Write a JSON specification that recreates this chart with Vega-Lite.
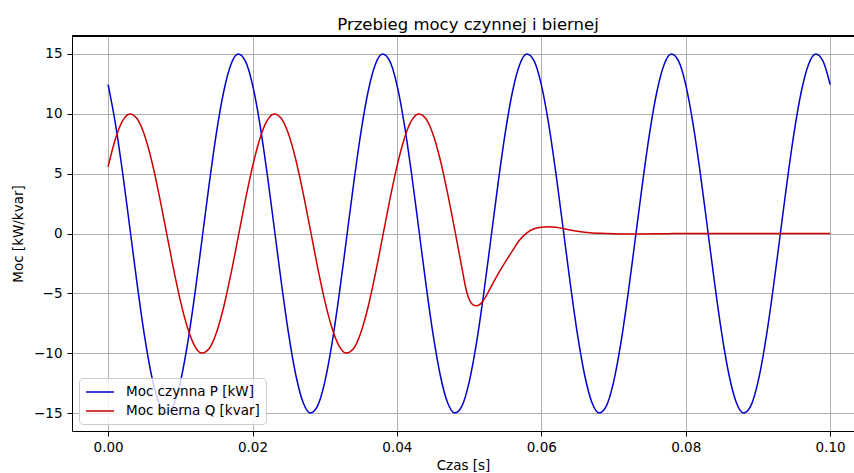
{
"$schema": "https://vega.github.io/schema/vega-lite/v6.json",
"width": 782, "height": 395,
"autosize": {"type": "none"},
"padding": {"left": 72, "top": 36, "right": 0, "bottom": 42},
"background": "white",
"title": {"text": "Przebieg mocy czynnej i biernej", "fontSize": 16.5, "font": "DejaVu Sans", "fontWeight": "normal", "color": "black", "baseline": "bottom", "offset": 4, "dy": 18, "dx": 5},
"data": {"values": [
{"t":0,"s":"P","v":12.44},{"t":0.001,"s":"P","v":9.23},{"t":0.002,"s":"P","v":5.13},{"t":0.003,"s":"P","v":0.52},{"t":0.004,"s":"P","v":-4.13},{"t":0.005,"s":"P","v":-8.39},{"t":0.006,"s":"P","v":-11.82},{"t":0.007,"s":"P","v":-14.1},{"t":0.008,"s":"P","v":-14.99},{"t":0.009,"s":"P","v":-14.42},
{"t":0.010,"s":"P","v":-12.44},{"t":0.011,"s":"P","v":-9.23},{"t":0.012,"s":"P","v":-5.13},{"t":0.013,"s":"P","v":-0.52},{"t":0.014,"s":"P","v":4.13},{"t":0.015,"s":"P","v":8.39},{"t":0.016,"s":"P","v":11.82},{"t":0.017,"s":"P","v":14.1},{"t":0.018,"s":"P","v":14.99},{"t":0.019,"s":"P","v":14.42},
{"t":0.020,"s":"P","v":12.44},{"t":0.021,"s":"P","v":9.23},{"t":0.022,"s":"P","v":5.13},{"t":0.023,"s":"P","v":0.52},{"t":0.024,"s":"P","v":-4.13},{"t":0.025,"s":"P","v":-8.39},{"t":0.026,"s":"P","v":-11.82},{"t":0.027,"s":"P","v":-14.1},{"t":0.028,"s":"P","v":-14.99},{"t":0.029,"s":"P","v":-14.42},
{"t":0.030,"s":"P","v":-12.44},{"t":0.031,"s":"P","v":-9.23},{"t":0.032,"s":"P","v":-5.13},{"t":0.033,"s":"P","v":-0.52},{"t":0.034,"s":"P","v":4.13},{"t":0.035,"s":"P","v":8.39},{"t":0.036,"s":"P","v":11.82},{"t":0.037,"s":"P","v":14.1},{"t":0.038,"s":"P","v":14.99},{"t":0.039,"s":"P","v":14.42},
{"t":0.040,"s":"P","v":12.44},{"t":0.041,"s":"P","v":9.23},{"t":0.042,"s":"P","v":5.13},{"t":0.043,"s":"P","v":0.52},{"t":0.044,"s":"P","v":-4.13},{"t":0.045,"s":"P","v":-8.39},{"t":0.046,"s":"P","v":-11.82},{"t":0.047,"s":"P","v":-14.1},{"t":0.048,"s":"P","v":-14.99},{"t":0.049,"s":"P","v":-14.42},
{"t":0.050,"s":"P","v":-12.44},{"t":0.051,"s":"P","v":-9.23},{"t":0.052,"s":"P","v":-5.13},{"t":0.053,"s":"P","v":-0.52},{"t":0.054,"s":"P","v":4.13},{"t":0.055,"s":"P","v":8.39},{"t":0.056,"s":"P","v":11.82},{"t":0.057,"s":"P","v":14.1},{"t":0.058,"s":"P","v":14.99},{"t":0.059,"s":"P","v":14.42},
{"t":0.060,"s":"P","v":12.44},{"t":0.061,"s":"P","v":9.23},{"t":0.062,"s":"P","v":5.13},{"t":0.063,"s":"P","v":0.52},{"t":0.064,"s":"P","v":-4.13},{"t":0.065,"s":"P","v":-8.39},{"t":0.066,"s":"P","v":-11.82},{"t":0.067,"s":"P","v":-14.1},{"t":0.068,"s":"P","v":-14.99},{"t":0.069,"s":"P","v":-14.42},
{"t":0.070,"s":"P","v":-12.44},{"t":0.071,"s":"P","v":-9.23},{"t":0.072,"s":"P","v":-5.13},{"t":0.073,"s":"P","v":-0.52},{"t":0.074,"s":"P","v":4.13},{"t":0.075,"s":"P","v":8.39},{"t":0.076,"s":"P","v":11.82},{"t":0.077,"s":"P","v":14.1},{"t":0.078,"s":"P","v":14.99},{"t":0.079,"s":"P","v":14.42},
{"t":0.080,"s":"P","v":12.44},{"t":0.081,"s":"P","v":9.23},{"t":0.082,"s":"P","v":5.13},{"t":0.083,"s":"P","v":0.52},{"t":0.084,"s":"P","v":-4.13},{"t":0.085,"s":"P","v":-8.39},{"t":0.086,"s":"P","v":-11.82},{"t":0.087,"s":"P","v":-14.1},{"t":0.088,"s":"P","v":-14.99},{"t":0.089,"s":"P","v":-14.42},
{"t":0.090,"s":"P","v":-12.44},{"t":0.091,"s":"P","v":-9.23},{"t":0.092,"s":"P","v":-5.13},{"t":0.093,"s":"P","v":-0.52},{"t":0.094,"s":"P","v":4.13},{"t":0.095,"s":"P","v":8.39},{"t":0.096,"s":"P","v":11.82},{"t":0.097,"s":"P","v":14.1},{"t":0.098,"s":"P","v":14.99},{"t":0.099,"s":"P","v":14.42},
{"t":0.100,"s":"P","v":12.44},
{"t":0,"s":"Q","v":5.59},{"t":0.001,"s":"Q","v":7.88},{"t":0.002,"s":"Q","v":9.4},{"t":0.003,"s":"Q","v":9.99},{"t":0.004,"s":"Q","v":9.61},{"t":0.005,"s":"Q","v":8.29},{"t":0.006,"s":"Q","v":6.16},{"t":0.007,"s":"Q","v":3.42},{"t":0.008,"s":"Q","v":0.35},{"t":0.009,"s":"Q","v":-2.76},
{"t":0.010,"s":"Q","v":-5.59},{"t":0.011,"s":"Q","v":-7.88},{"t":0.012,"s":"Q","v":-9.4},{"t":0.013,"s":"Q","v":-9.99},{"t":0.014,"s":"Q","v":-9.61},{"t":0.015,"s":"Q","v":-8.29},{"t":0.016,"s":"Q","v":-6.16},{"t":0.017,"s":"Q","v":-3.42},{"t":0.018,"s":"Q","v":-0.35},{"t":0.019,"s":"Q","v":2.76},
{"t":0.020,"s":"Q","v":5.59},{"t":0.021,"s":"Q","v":7.88},{"t":0.022,"s":"Q","v":9.4},{"t":0.023,"s":"Q","v":9.99},{"t":0.024,"s":"Q","v":9.61},{"t":0.025,"s":"Q","v":8.29},{"t":0.026,"s":"Q","v":6.16},{"t":0.027,"s":"Q","v":3.42},{"t":0.028,"s":"Q","v":0.35},{"t":0.029,"s":"Q","v":-2.76},
{"t":0.030,"s":"Q","v":-5.59},{"t":0.031,"s":"Q","v":-7.88},{"t":0.032,"s":"Q","v":-9.4},{"t":0.033,"s":"Q","v":-9.99},{"t":0.034,"s":"Q","v":-9.61},{"t":0.035,"s":"Q","v":-8.29},{"t":0.036,"s":"Q","v":-6.16},{"t":0.037,"s":"Q","v":-3.42},{"t":0.038,"s":"Q","v":-0.35},{"t":0.039,"s":"Q","v":2.76},
{"t":0.040,"s":"Q","v":5.59},{"t":0.041,"s":"Q","v":7.88},{"t":0.042,"s":"Q","v":9.4},{"t":0.043,"s":"Q","v":9.99},{"t":0.044,"s":"Q","v":9.61},{"t":0.045,"s":"Q","v":8.29},{"t":0.046,"s":"Q","v":6.16},{"t":0.047,"s":"Q","v":3.42},{"t":0.048,"s":"Q","v":0.35},{"t":0.049,"s":"Q","v":-2.85},
{"t":0.0495,"s":"Q","v":-4.45},{"t":0.050,"s":"Q","v":-5.5},{"t":0.0505,"s":"Q","v":-5.95},{"t":0.051,"s":"Q","v":-6.04},{"t":0.0515,"s":"Q","v":-5.92},{"t":0.052,"s":"Q","v":-5.58},{"t":0.053,"s":"Q","v":-4.5},{"t":0.054,"s":"Q","v":-3.4},{"t":0.055,"s":"Q","v":-2.4},{"t":0.056,"s":"Q","v":-1.45},
{"t":0.057,"s":"Q","v":-0.55},{"t":0.058,"s":"Q","v":0.05},{"t":0.059,"s":"Q","v":0.4},{"t":0.060,"s":"Q","v":0.53},{"t":0.061,"s":"Q","v":0.57},{"t":0.062,"s":"Q","v":0.53},{"t":0.063,"s":"Q","v":0.42},{"t":0.064,"s":"Q","v":0.29},{"t":0.065,"s":"Q","v":0.18},{"t":0.066,"s":"Q","v":0.1},
{"t":0.067,"s":"Q","v":0.05},{"t":0.068,"s":"Q","v":0.02},{"t":0.069,"s":"Q","v":-0.01},{"t":0.070,"s":"Q","v":-0.03},{"t":0.072,"s":"Q","v":-0.05},{"t":0.074,"s":"Q","v":-0.04},{"t":0.076,"s":"Q","v":-0.02},{"t":0.078,"s":"Q","v":-0.01},{"t":0.080,"s":"Q","v":0},{"t":0.090,"s":"Q","v":0},{"t":0.100,"s":"Q","v":0}
]},
"layer": [
{"mark": {"type": "line", "strokeWidth": 1.5, "interpolate": "monotone", "clip": true},
 "encoding": {
  "x": {"field": "t", "type": "quantitative", "scale": {"domain": [-0.005, 0.10331], "nice": false, "zero": false}, "axis": {"values": [0, 0.02, 0.04, 0.06, 0.08, 0.1], "format": ".2f", "title": "Czas [s]"}},
  "y": {"field": "v", "type": "quantitative", "scale": {"domain": [-16.5, 16.5], "nice": false}, "axis": {"values": [-15, -10, -5, 0, 5, 10, 15], "title": "Moc [kW/kvar]"}},
  "color": {"field": "s", "type": "nominal", "scale": {"domain": ["P", "Q"], "range": ["#0000cc", "#cc0000"]}, "legend": {"title": null, "labelExpr": "datum.value == 'P' ? 'Moc czynna P [kW]' : 'Moc bierna Q [kvar]'"}}
 }},
{"mark": {"type": "rule", "color": "black", "strokeWidth": 1}, "encoding": {"y": {"datum": 16.5}}}
],
"config": {
 "view": {"stroke": null},
 "axis": {"labelFont": "DejaVu Sans", "titleFont": "DejaVu Sans", "labelFontSize": 13.5, "titleFontSize": 13.5, "titleFontWeight": "normal", "labelColor": "black", "titleColor": "black", "domainColor": "black", "tickColor": "black", "tickSize": 5, "gridColor": "#b0b0b0", "gridWidth": 1, "domainWidth": 1, "tickWidth": 1, "grid": true},
 "axisX": {"labelPadding": 4, "titlePadding": 5},
 "axisY": {"labelPadding": 5, "titlePadding": 8},
 "legend": {"orient": "bottom-left", "offset": 7, "padding": 6, "fillColor": "rgba(255,255,255,0.8)", "strokeColor": "#cccccc", "cornerRadius": 4, "symbolType": "M-1,0H3", "symbolSize": 196, "symbolStrokeWidth": 1.5, "labelFont": "DejaVu Sans", "labelFontSize": 13.5, "labelColor": "black", "labelOffset": 25, "rowPadding": 4, "labelLimit": 300}
}
}
